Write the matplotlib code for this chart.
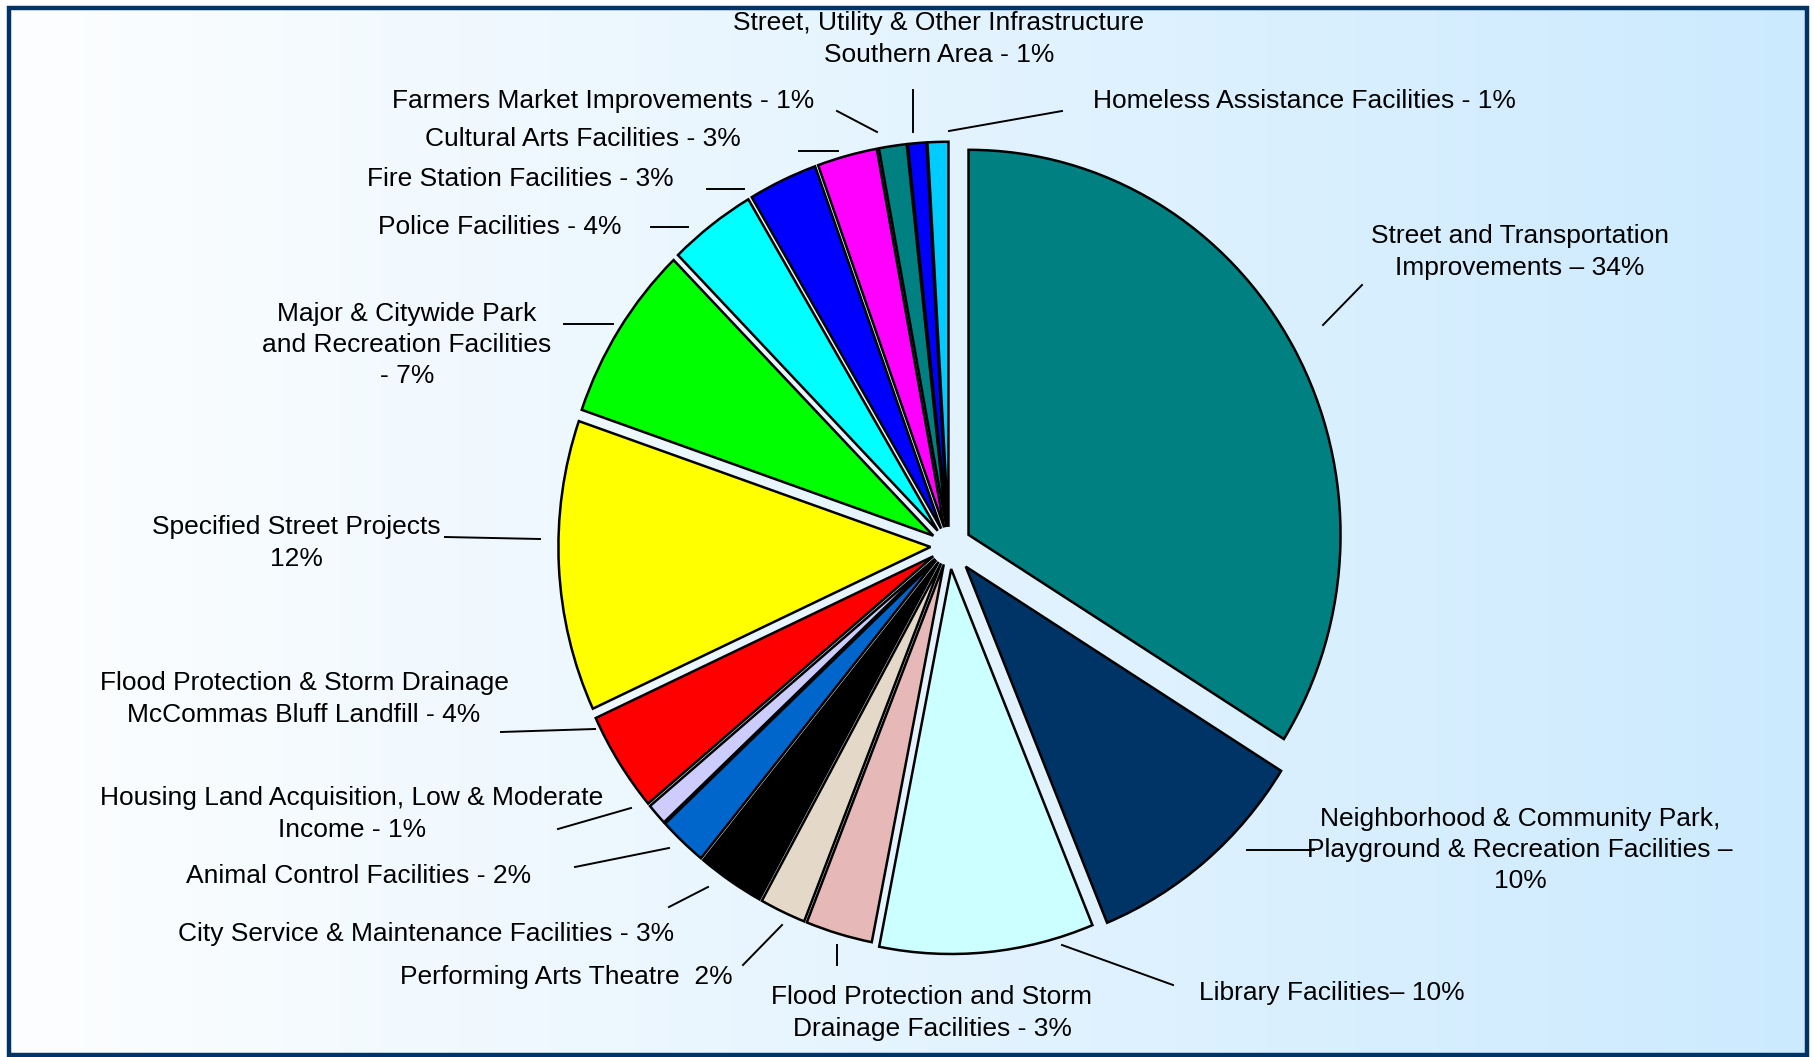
import numpy as np
import matplotlib
matplotlib.use("Agg")
import matplotlib.pyplot as plt
from matplotlib.patches import Rectangle
from matplotlib.lines import Line2D

plt.rcParams['font.family'] = ['Liberation Sans', 'DejaVu Sans']

# ---- data (clockwise from 12 o'clock) ----
categories = [
    "Street and Transportation Improvements",
    "Neighborhood & Community Park, Playground & Recreation Facilities",
    "Library Facilities",
    "Flood Protection and Storm Drainage Facilities",
    "Performing Arts Theatre",
    "City Service & Maintenance Facilities",
    "Animal Control Facilities",
    "Housing Land Acquisition, Low & Moderate Income",
    "Flood Protection & Storm Drainage McCommas Bluff Landfill",
    "Specified Street Projects",
    "Major & Citywide Park and Recreation Facilities",
    "Police Facilities",
    "Fire Station Facilities",
    "Cultural Arts Facilities",
    "Farmers Market Improvements",
    "Street, Utility & Other Infrastructure Southern Area",
    "Homeless Assistance Facilities",
]
values = [33.9, 9.9, 9.3, 2.9, 2.0, 2.9, 2.1, 0.9, 4.2, 12.2, 7.4, 3.8, 3.0, 2.6, 1.2, 0.8, 0.9]
label_texts = [
    "Street and Transportation\nImprovements \u2013 34%",
    "Neighborhood & Community Park,\nPlayground & Recreation Facilities \u2013\n10%",
    "Library Facilities\u2013 10%",
    "Flood Protection and Storm\nDrainage Facilities - 3%",
    "Performing Arts Theatre  2%",
    "City Service & Maintenance Facilities - 3%",
    "Animal Control Facilities - 2%",
    "Housing Land Acquisition, Low & Moderate\nIncome - 1%",
    "Flood Protection & Storm Drainage\nMcCommas Bluff Landfill - 4%",
    "Specified Street Projects\n12%",
    "Major & Citywide Park\nand Recreation Facilities\n- 7%",
    "Police Facilities - 4%",
    "Fire Station Facilities - 3%",
    "Cultural Arts Facilities - 3%",
    "Farmers Market Improvements - 1%",
    "Street, Utility & Other Infrastructure\nSouthern Area - 1%",
    "Homeless Assistance Facilities - 1%",
]
colors = ["#008080", "#003366", "#CCFFFF", "#E6B8B8", "#E4D8C8", "#000000",
          "#0066CC", "#CCCCFF", "#FF0000", "#FFFF00", "#00FF00", "#00FFFF",
          "#0000FF", "#FF00FF", "#008080", "#0000FF", "#00CCFF"]
explode = [0.06, 0.07, 0.06, 0.05, 0.05, 0.05, 0.05, 0.05, 0.05, 0.05,
           0.05, 0.05, 0.05, 0.05, 0.05, 0.05, 0.05]

# label placement (pixel coords, origin top-left) : (x, y)
label_pos = [
    (1520, 252),
    (1520, 850),
    (1332, 993),
    (932, 1013),
    (566, 977),
    (426, 934),
    (359, 876),
    (352, 814),
    (304, 699),
    (296, 543),
    (407, 345),
    (500, 227),
    (520, 179),
    (583, 139),
    (603, 101),
    (939, 39),
    (1304, 101),
]
leader_lines = [
    ((1323, 325), (1362, 285)),
    ((1247, 850), (1314, 850)),
    ((1062, 945), (1173, 985)),
    ((837, 945), (837, 965)),
    ((743, 965), (782, 925)),
    ((669, 907), (708, 887)),
    ((575, 867), (669, 848)),
    ((558, 829), (631, 808)),
    ((501, 732), (595, 729)),
    ((445, 537), (540, 539)),
    ((564, 324), (613, 324)),
    ((651, 227), (688, 227)),
    ((707, 189), (744, 189)),
    ((799, 151), (838, 151)),
    ((837, 111), (877, 132)),
    ((913, 90), (913, 132)),
    ((949, 131), (1062, 111)),
]

W, H = 1815, 1057
fig = plt.figure(figsize=(W / 100, H / 100), dpi=100)

# background gradient + border
bg = fig.add_axes([0, 0, 1, 1])
bg.set_xlim(0, W)
bg.set_ylim(H, 0)
bg.axis('off')
left_c = np.array([253, 254, 255]) / 255.0
right_c = np.array([204, 234, 254]) / 255.0
t = np.linspace(0, 1, 256)
grad = (left_c[None, :] * (1 - t[:, None]) + right_c[None, :] * t[:, None])[None, :, :]
bg.imshow(grad, extent=[9, 1807, 1055, 8], aspect='auto', zorder=0)
bg.add_patch(Rectangle((9, 8), 1798, 1047, fill=False, edgecolor='#003366', lw=3.2, zorder=5))

# pie axes: centre at (949, 546) px, radii 372 (x) / 385 (y)
cx, cy, rx, ry = 949, 546, 372, 385
a = b = 1.3
aw, ah = 2 * a * rx, 2 * b * ry
ax = fig.add_axes([(cx - aw / 2) / W, (H - cy - ah / 2) / H, aw / W, ah / H])
ax.patch.set_alpha(0)
ax.pie(values, colors=colors, explode=explode, startangle=90, counterclock=False,
       wedgeprops=dict(edgecolor='black', linewidth=1.8))
ax.set_aspect('auto')
ax.set_xlim(-a, a)
ax.set_ylim(-b, b)
ax.axis('off')

# labels and leader lines (overlay axes in pixel coords)
ov = fig.add_axes([0, 0, 1, 1])
ov.set_xlim(0, W)
ov.set_ylim(H, 0)
ov.axis('off')
ov.patch.set_alpha(0)
for txt, (x, y) in zip(label_texts, label_pos):
    ov.text(x, y, txt, ha='center', va='center', fontsize=19, color='black',
            linespacing=1.38, multialignment='center')
for (p0, p1) in leader_lines:
    ov.add_line(Line2D([p0[0], p1[0]], [p0[1], p1[1]], color='black', lw=1.4))

fig.savefig("out.png", dpi=100)
